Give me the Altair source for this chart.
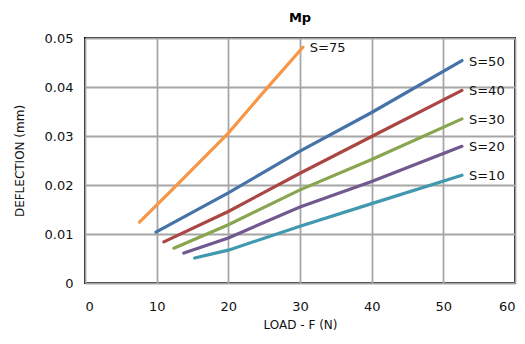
import altair as alt
import pandas as pd

series = ["S=75", "S=50", "S=40", "S=30", "S=20", "S=10"]
colors = ["#F79646", "#4572A7", "#AA4643", "#89A54E", "#71588F", "#4198AF"]

load_75 = [7.6, 12, 20, 25, 30.4]
defl_75 = [0.0124, 0.0188, 0.0306, 0.0391, 0.0481]

load_50 = [9.9, 20, 30, 40, 52.6]
defl_50 = [0.0104, 0.0184, 0.0269, 0.0348, 0.0454]

load_40 = [11.0, 20, 30, 40, 52.6]
defl_40 = [0.0084, 0.0146, 0.0224, 0.0299, 0.0393]

load_30 = [12.4, 20, 30, 40, 52.6]
defl_30 = [0.0071, 0.0119, 0.0190, 0.0252, 0.0335]

load_20 = [13.8, 20, 30, 40, 52.6]
defl_20 = [0.0061, 0.0092, 0.0155, 0.0207, 0.0279]

load_10 = [15.3, 20, 30, 40, 52.6]
defl_10 = [0.0051, 0.0067, 0.0116, 0.0162, 0.0220]

loads = [load_75, load_50, load_40, load_30, load_20, load_10]
defls = [defl_75, defl_50, defl_40, defl_30, defl_20, defl_10]

rows = []
for s, xs, ys in zip(series, loads, defls):
    for i, (x, y) in enumerate(zip(xs, ys)):
        rows.append({"series": s, "load": x, "defl": y, "idx": i})
df = pd.DataFrame(rows)
last = df.groupby("series", as_index=False).last()

FONT = "DejaVu Sans"

xenc = alt.X("load:Q", scale=alt.Scale(domain=[0, 60], nice=False),
             axis=alt.Axis(values=[0, 10, 20, 30, 40, 50, 60], title="LOAD - F (N)",
                           titlePadding=6, labelPadding=17))
yenc = alt.Y("defl:Q", scale=alt.Scale(domain=[0, 0.05], nice=False),
             axis=alt.Axis(values=[0, 0.01, 0.02, 0.03, 0.04, 0.05], format="~g",
                           title="DEFLECTION (mm)", titlePadding=18, labelPadding=12))
cenc = alt.Color("series:N", scale=alt.Scale(domain=series, range=colors), legend=None)

lines = alt.Chart(df).mark_line(strokeWidth=3.2, strokeCap="round").encode(
    x=xenc, y=yenc, color=cenc, order="idx:Q")

labels = alt.Chart(last).mark_text(align="left", baseline="middle", dx=7, dy=1,
                                   fontSize=13, font=FONT, color="#111111").encode(
    x="load:Q", y="defl:Q", text="series:N")

chart = (lines + labels).properties(
    width=430, height=245,
    background="white",
    title=alt.TitleParams("Mp", fontSize=13, font=FONT, fontWeight="bold", offset=7),
    autosize=alt.AutoSizeParams(type="none"),
    padding={"left": 77, "top": 30, "right": 2, "bottom": 52},
).configure_view(stroke="black", strokeWidth=2).configure_axis(
    gridColor="#A6A6A6", gridWidth=1.8, domain=False, ticks=False,
    labelFont=FONT, labelFontSize=13, labelColor="#111111",
    titleFont=FONT, titleFontSize=12, titleColor="#111111", titleFontWeight="normal",
)

chart.save("out.html", embed_options={"renderer": "svg", "actions": False})
